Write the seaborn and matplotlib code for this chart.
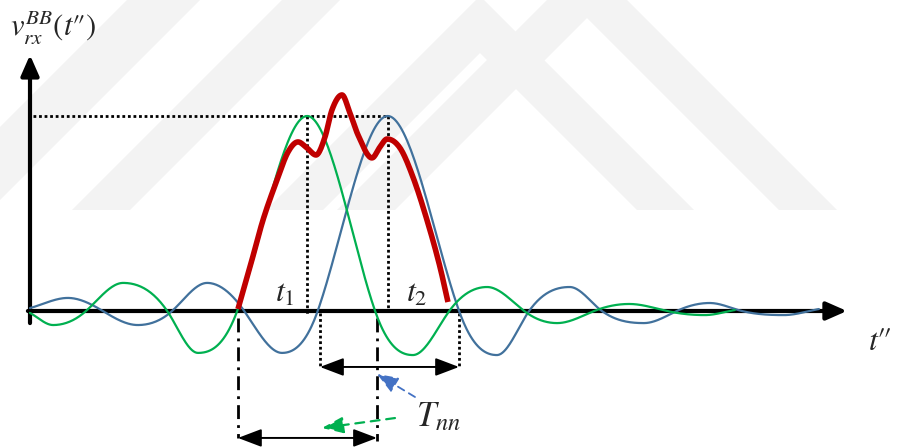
import numpy as np
import pandas as pd
import matplotlib
matplotlib.use("Agg")
import matplotlib.pyplot as plt
import seaborn as sns

sns.set_style("white")
plt.rcParams["mathtext.fontset"] = "stix"
plt.rcParams["font.family"] = ["STIXGeneral", "DejaVu Serif"]

# Time in units of the symbol spacing, amplitude normalised to the pulse peak.
# Knots are the zero crossings and lobe extrema of each received pulse.
green_t = [0.00, 0.33, 0.80, 1.33, 1.96, 2.40, 2.96, 3.96, 4.93, 5.47, 5.99,
           6.53, 7.06, 7.53, 8.06, 8.56, 9.10, 9.64, 10.07]
green_v = [-0.010, -0.072, 0.0, 0.144, 0.0, -0.215, 0.0, 1.0, 0.0, -0.226, 0.0,
           0.123, 0.0, -0.062, 0.0, 0.036, 0.0, -0.021, 0.005]

blue_t = [0.00, 0.54, 1.04, 1.54, 2.03, 2.53, 3.06, 3.60, 4.11, 5.11, 6.13,
          6.67, 7.13, 7.71, 8.17, 8.77, 9.24, 9.71, 10.17, 10.77, 11.27]
blue_v = [0.015, 0.067, 0.0, -0.072, 0.0, 0.144, 0.0, -0.215, 0.0, 1.0, 0.0,
          -0.226, 0.0, 0.123, 0.0, -0.062, 0.0, 0.041, 0.0, -0.021, 0.010]

# Received sum over the overlap of the two main lobes
red_t = [2.971, 3.143, 3.329, 3.529, 3.686, 3.829, 3.957, 4.086, 4.214, 4.314,
         4.457, 4.571, 4.686, 4.886, 5.000, 5.100, 5.286, 5.471, 5.671, 5.857, 5.971]
red_v = [0.010, 0.226, 0.467, 0.672, 0.815, 0.867, 0.836, 0.800, 0.892, 1.031,
         1.108, 1.015, 0.903, 0.785, 0.841, 0.882, 0.836, 0.687, 0.467, 0.226, 0.046]

t1, t2 = 3.957, 5.114          # pulse peak instants
green_lobe = (2.971, 4.957)    # main-lobe zero crossings, first pulse
blue_lobe = (4.143, 6.129)     # main-lobe zero crossings, second pulse

# Page watermark (light grey chevrons), in pixel units of the page
wm_outer = [(587, -40), (837, 210), (779, 210), (587, 18), (395, 210), (337, 210)]
wm_inner = [(480, -4), (694, 210), (637, 210), (480, 53), (323, 210), (266, 210)]
wm_band_a = [(0, 127), (127, 0), (200, 0), (0, 200)]
wm_band_b = [(72, 210), (282, 0), (340, 0), (130, 210)]


def smooth(t, v, boost=1.0, geometric=True, n=40):
    """Piecewise cubic Hermite curve through the knots (flat at extrema)."""
    t = np.asarray(t, float)
    v = np.asarray(v, float)
    d = np.diff(v) / np.diff(t)
    m = np.zeros_like(v)
    m[0], m[-1] = d[0], d[-1]
    for i in range(1, len(v) - 1):
        a, b = d[i - 1], d[i]
        if a * b > 0:
            mean = np.sqrt(a * b) if geometric else 0.5 * (abs(a) + abs(b))
            s = min(boost * mean, 3 * min(abs(a), abs(b)))
            m[i] = np.sign(a) * s
    xs, ys = [], []
    for i in range(len(v) - 1):
        h = t[i + 1] - t[i]
        s = np.linspace(0, 1, n, endpoint=(i == len(v) - 2))
        h00 = 2 * s**3 - 3 * s**2 + 1
        h10 = s**3 - 2 * s**2 + s
        h01 = -2 * s**3 + 3 * s**2
        h11 = s**3 - s**2
        xs.append(t[i] + s * h)
        ys.append(h00 * v[i] + h10 * h * m[i] + h01 * v[i + 1] + h11 * h * m[i + 1])
    return pd.DataFrame({"t": np.concatenate(xs), "v": np.concatenate(ys)})


fig = plt.figure(figsize=(8.97, 4.48), dpi=100)

# Background layer for the watermark
bg = fig.add_axes([0, 0, 1, 1], zorder=0)
bg.set_xlim(0, 897)
bg.set_ylim(448, 0)
bg.axis("off")
for poly in (wm_outer, wm_inner, wm_band_a, wm_band_b):
    xs, ys = zip(*poly)
    bg.fill(xs, ys, color="#F3F3F3", lw=0)

ax = fig.add_axes([0, 0, 1, 1], zorder=1)
ax.patch.set_alpha(0)

# Axes with arrow heads
axis_arrow = dict(arrowstyle="-|>,head_length=1.25,head_width=0.55",
                  mutation_scale=10, color="black", lw=3.0, shrinkA=0, shrinkB=0)
ax.annotate("", xy=(11.671, 0), xytext=(-0.03, 0), arrowprops=axis_arrow, zorder=2)
ax.annotate("", xy=(0, 1.313), xytext=(0, -0.062), arrowprops=axis_arrow, zorder=2)

# Peak reference lines
dot = dict(color="black", lw=2.0, linestyle=(0, (1, 1)), zorder=3)
ax.plot([0.04, t2], [1.0, 1.0], **dot)
ax.plot([t1, t1], [1.0, -0.025], **dot)
ax.plot([t2, t2], [1.0, 0.0], **dot)
for x in blue_lobe:
    ax.plot([x, x], [-0.01, -0.28], **dot)

dashdot = dict(color="black", lw=2.0, linestyle=(0, (5, 2.2, 1, 2.2)), zorder=3)
for x, y_end in zip(green_lobe, (-0.651, -0.667)):
    ax.plot([x, x], [-0.036, y_end], **dashdot)

# Main-lobe width arrows
dbl = dict(arrowstyle="<|-|>,head_length=1.45,head_width=0.55", mutation_scale=10,
           color="black", lw=1.4, shrinkA=0, shrinkB=0)
ax.annotate("", xy=(blue_lobe[1], -0.287), xytext=(blue_lobe[0], -0.287),
            arrowprops=dbl, zorder=4)
ax.annotate("", xy=(green_lobe[1], -0.651), xytext=(green_lobe[0], -0.651),
            arrowprops=dbl, zorder=4)

# Pointers from the T_nn label
ax.annotate("", xy=(4.957, -0.323), xytext=(5.50, -0.441),
            arrowprops=dict(arrowstyle="-|>,head_length=1.3,head_width=0.5",
                            mutation_scale=10, color="#4472C4", lw=1.3,
                            linestyle=(0, (4, 3)), shrinkA=0, shrinkB=0), zorder=5)
ax.annotate("", xy=(4.171, -0.600), xytext=(5.214, -0.549),
            arrowprops=dict(arrowstyle="-|>,head_length=1.3,head_width=0.5",
                            mutation_scale=10, color="#00B050", lw=1.6,
                            linestyle=(0, (4, 3)), shrinkA=0, shrinkB=0), zorder=5)

# Pulses
sns.lineplot(data=smooth(blue_t, blue_v, boost=np.pi / 2), x="t", y="v", sort=False,
             estimator=None, color="#41719C", lw=1.6, ax=ax, zorder=6)
sns.lineplot(data=smooth(green_t, green_v, boost=np.pi / 2), x="t", y="v", sort=False,
             estimator=None, color="#00B050", lw=1.6, ax=ax, zorder=7)
sns.lineplot(data=smooth(red_t, red_v, geometric=False, n=20), x="t", y="v",
             sort=False, estimator=None, color="#C00000", lw=4.0, ax=ax, zorder=8)
ax.lines[-1].set_solid_capstyle("butt")
ax.set_xlim(-0.4286, 12.386)
ax.set_ylim(-0.7026, 1.5949)
ax.axis("off")

# Labels
ax.text(3.50, 0.046, r"$t_1$", fontsize=23, ha="left", va="baseline", zorder=9)
ax.text(5.37, 0.046, r"$t_2$", fontsize=23, ha="left", va="baseline", zorder=9)
ax.text(11.97, -0.20, r"$t\prime\!\prime$", fontsize=23, ha="left", va="baseline",
        zorder=9)
ax.text(5.52, -0.59, r"$T_{nn}$", fontsize=25, ha="left", va="baseline", zorder=9)
ax.text(-0.29, 1.405, r"$v_{rx}^{BB}(t\prime\!\prime)$", fontsize=22, ha="left",
        va="baseline", zorder=9)

fig.savefig("out.png", dpi=100)
